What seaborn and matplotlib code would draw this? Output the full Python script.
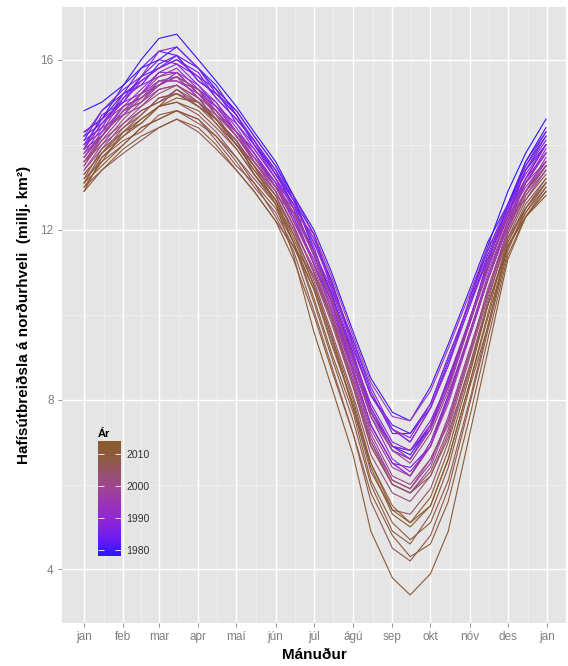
import numpy as np
import pandas as pd
import matplotlib
matplotlib.use("Agg")
import matplotlib.pyplot as plt
import seaborn as sns
from matplotlib.colors import LinearSegmentedColormap, Normalize
from matplotlib.cm import ScalarMappable

# day of year for each reading
days = [1, 15, 32, 46, 60, 74, 91, 105, 121, 135, 152, 166, 182, 196, 213,
        227, 244, 258, 274, 288, 305, 319, 335, 349, 365]
days_1978 = [305, 319, 335, 349, 365]

# sea ice extent, million km2
ext_1978 = [10.4, 11.6, 12.9, 13.8, 14.6]
ext_1979 = [14.8, 15.0, 15.4, 16.0, 16.5, 16.6, 16.0, 15.5, 14.9, 14.3, 13.6, 12.8, 11.5, 10.5, 9.0, 7.8, 6.9, 6.7, 7.4, 8.4, 9.9, 11.2, 12.6, 13.6, 14.4]
ext_1980 = [14.3, 14.6, 15.4, 15.8, 16.0, 16.3, 15.8, 15.3, 14.8, 14.2, 13.5, 12.8, 12.0, 11.0, 9.6, 8.5, 7.7, 7.5, 8.3, 9.3, 10.6, 11.7, 12.6, 13.5, 14.2]
ext_1981 = [14.0, 14.6, 15.2, 15.4, 15.9, 16.1, 15.5, 15.2, 14.7, 14.0, 13.3, 12.6, 11.4, 10.4, 9.1, 7.7, 6.9, 6.8, 7.3, 8.5, 9.8, 11.1, 12.4, 13.4, 14.0]
ext_1982 = [14.1, 14.8, 15.2, 15.8, 16.2, 16.1, 15.8, 15.4, 14.7, 14.1, 13.4, 12.7, 11.7, 10.8, 9.3, 8.1, 7.4, 7.2, 7.8, 8.9, 10.2, 11.4, 12.5, 13.6, 14.3]
ext_1983 = [14.2, 14.5, 15.1, 15.6, 15.8, 16.0, 15.7, 15.1, 14.6, 14.1, 13.3, 12.7, 11.9, 10.6, 9.4, 8.2, 7.2, 7.2, 7.9, 9.0, 10.3, 11.3, 12.4, 13.2, 14.0]
ext_1984 = [13.9, 14.2, 14.9, 15.1, 15.4, 15.7, 15.2, 14.9, 14.3, 13.8, 13.0, 12.3, 11.2, 10.3, 8.7, 7.4, 6.5, 6.4, 6.9, 8.1, 9.5, 10.8, 12.1, 13.1, 13.8]
ext_1985 = [13.9, 14.7, 15.0, 15.6, 16.0, 15.9, 15.6, 15.3, 14.5, 14.0, 13.4, 12.5, 11.4, 10.5, 8.9, 7.7, 6.8, 6.6, 7.3, 8.3, 9.9, 11.1, 12.3, 13.4, 14.1]
ext_1986 = [14.1, 14.4, 15.2, 15.5, 15.8, 16.1, 15.5, 15.2, 14.7, 14.0, 13.2, 12.6, 11.8, 10.8, 9.2, 8.1, 7.3, 7.0, 7.8, 8.8, 10.4, 11.5, 12.5, 13.4, 14.2]
ext_1987 = [14.2, 14.8, 15.3, 15.6, 16.2, 16.3, 15.8, 15.2, 14.8, 14.2, 13.5, 12.7, 11.6, 10.4, 9.0, 7.9, 7.0, 6.8, 7.5, 8.4, 9.8, 11.3, 12.5, 13.5, 14.3]
ext_1988 = [14.3, 14.6, 15.0, 15.5, 15.8, 16.0, 15.6, 15.1, 14.6, 14.1, 13.3, 12.8, 11.9, 10.7, 9.4, 8.3, 7.3, 7.1, 7.9, 9.0, 10.3, 11.5, 12.6, 13.3, 14.0]
ext_1989 = [13.9, 14.5, 15.0, 15.2, 15.7, 15.9, 15.4, 14.9, 14.5, 13.9, 13.2, 12.5, 11.5, 10.6, 9.1, 7.8, 6.9, 6.6, 7.4, 8.5, 9.9, 11.1, 12.4, 13.2, 14.0]
ext_1990 = [14.0, 14.3, 15.1, 15.4, 15.6, 15.8, 15.3, 15.0, 14.4, 13.8, 13.1, 12.4, 11.2, 10.1, 8.7, 7.4, 6.5, 6.2, 7.0, 8.1, 9.6, 10.9, 12.2, 13.1, 13.9]
ext_1991 = [13.8, 14.4, 14.7, 15.2, 15.5, 15.5, 15.2, 14.8, 14.2, 13.7, 13.1, 12.2, 11.3, 10.3, 8.8, 7.6, 6.6, 6.3, 6.9, 8.0, 9.5, 10.8, 12.1, 12.9, 13.7]
ext_1992 = [13.7, 14.2, 14.8, 15.0, 15.4, 15.6, 15.3, 14.9, 14.3, 13.8, 13.1, 12.6, 11.7, 10.7, 9.2, 8.1, 7.3, 7.0, 7.8, 8.8, 10.2, 11.3, 12.4, 13.1, 13.8]
ext_1993 = [13.9, 14.5, 14.9, 15.3, 15.7, 15.7, 15.4, 15.0, 14.3, 13.9, 13.2, 12.3, 11.2, 10.2, 8.7, 7.4, 6.5, 6.2, 6.9, 8.0, 9.6, 10.8, 12.2, 13.2, 13.8]
ext_1994 = [13.8, 14.2, 14.8, 15.2, 15.4, 15.6, 15.1, 14.8, 14.3, 13.6, 13.0, 12.4, 11.5, 10.4, 9.0, 7.8, 6.9, 6.8, 7.4, 8.4, 9.9, 11.1, 12.3, 13.0, 13.6]
ext_1995 = [13.6, 14.1, 14.7, 14.9, 15.3, 15.4, 15.1, 14.6, 14.1, 13.5, 12.9, 12.1, 11.0, 9.9, 8.5, 7.1, 6.1, 5.9, 6.5, 7.6, 9.2, 10.5, 12.0, 12.9, 13.5]
ext_1996 = [13.4, 13.9, 14.5, 14.8, 15.0, 15.3, 14.9, 14.6, 14.0, 13.5, 12.8, 12.4, 11.9, 10.9, 9.5, 8.4, 7.6, 7.5, 8.2, 9.2, 10.5, 11.6, 12.3, 12.7, 13.4]
ext_1997 = [13.7, 14.3, 14.9, 15.1, 15.5, 15.5, 15.3, 14.8, 14.2, 13.7, 13.0, 12.5, 11.4, 10.3, 8.9, 7.7, 6.8, 6.6, 7.3, 8.3, 9.8, 11.2, 12.3, 13.1, 13.6]
ext_1998 = [13.6, 14.2, 14.8, 15.2, 15.6, 15.7, 15.2, 14.7, 14.3, 13.7, 13.0, 12.2, 11.2, 10.1, 8.6, 7.3, 6.4, 6.2, 6.9, 7.9, 9.5, 10.8, 12.1, 12.9, 13.6]
ext_1999 = [13.7, 14.3, 14.7, 15.1, 15.4, 15.6, 15.1, 14.8, 14.2, 13.6, 12.9, 12.1, 11.0, 9.9, 8.4, 7.0, 6.0, 5.8, 6.4, 7.5, 9.1, 10.5, 12.0, 12.9, 13.5]
ext_2000 = [13.4, 14.0, 14.4, 14.7, 15.1, 15.2, 15.0, 14.5, 13.9, 13.3, 12.7, 12.0, 11.1, 10.0, 8.6, 7.2, 6.2, 6.0, 6.6, 7.4, 9.1, 10.5, 11.9, 12.8, 13.4]
ext_2001 = [13.5, 14.2, 14.8, 15.0, 15.5, 15.6, 15.3, 14.7, 14.2, 13.6, 13.0, 12.4, 11.4, 10.4, 8.9, 7.6, 6.8, 6.5, 7.2, 8.2, 9.8, 11.0, 12.2, 12.9, 13.5]
ext_2002 = [13.5, 14.1, 14.5, 14.9, 15.2, 15.4, 15.1, 14.6, 14.1, 13.5, 12.8, 12.0, 10.8, 9.6, 8.1, 6.7, 5.8, 5.6, 6.2, 7.2, 8.8, 10.3, 11.9, 12.8, 13.5]
ext_2003 = [13.6, 14.0, 14.6, 15.0, 15.3, 15.4, 15.0, 14.7, 14.0, 13.6, 12.9, 12.1, 11.0, 10.0, 8.4, 7.0, 6.1, 5.9, 6.6, 7.5, 9.1, 10.6, 12.0, 12.9, 13.5]
ext_2004 = [13.3, 13.8, 14.3, 14.5, 14.9, 15.0, 14.7, 14.3, 13.7, 13.2, 12.6, 11.9, 10.9, 9.9, 8.3, 6.9, 6.0, 5.8, 6.3, 7.3, 9.0, 10.4, 11.8, 12.5, 13.2]
ext_2005 = [13.2, 13.6, 14.0, 14.4, 14.6, 14.8, 14.5, 14.2, 13.6, 13.0, 12.4, 11.6, 10.6, 9.4, 7.8, 6.3, 5.4, 5.3, 5.9, 7.0, 8.7, 10.2, 11.6, 12.4, 13.1]
ext_2006 = [13.0, 13.4, 13.8, 14.1, 14.4, 14.6, 14.3, 13.9, 13.4, 12.9, 12.2, 11.6, 10.9, 9.8, 8.3, 6.9, 6.0, 5.8, 6.2, 7.1, 8.8, 10.2, 11.6, 12.3, 13.0]
ext_2007 = [13.1, 13.7, 14.1, 14.3, 14.7, 14.8, 14.6, 14.1, 13.5, 13.1, 12.3, 11.5, 10.1, 8.8, 7.2, 5.6, 4.5, 4.2, 4.8, 5.9, 7.9, 9.6, 11.5, 12.5, 13.1]
ext_2008 = [13.1, 13.8, 14.4, 14.8, 15.0, 15.2, 14.9, 14.6, 14.0, 13.4, 12.7, 11.7, 10.3, 9.0, 7.5, 6.0, 4.9, 4.6, 5.3, 6.4, 8.3, 9.7, 11.7, 12.6, 13.2]
ext_2009 = [13.2, 13.9, 14.3, 14.7, 15.1, 15.2, 14.9, 14.5, 14.0, 13.4, 12.8, 11.9, 10.7, 9.5, 7.8, 6.5, 5.4, 5.1, 5.5, 6.6, 8.4, 10.0, 11.8, 12.7, 13.3]
ext_2010 = [13.3, 13.8, 14.2, 14.6, 14.9, 15.3, 15.0, 14.6, 14.1, 13.3, 12.6, 11.7, 10.4, 9.1, 7.7, 6.1, 5.1, 4.7, 5.1, 6.1, 8.0, 9.7, 11.6, 12.4, 13.0]
ext_2011 = [12.9, 13.4, 13.9, 14.2, 14.4, 14.6, 14.4, 14.0, 13.4, 12.9, 12.2, 11.3, 10.0, 8.7, 7.2, 5.8, 4.8, 4.3, 4.6, 5.6, 7.6, 9.4, 11.4, 12.3, 12.9]
ext_2012 = [13.0, 13.6, 14.3, 14.6, 14.9, 15.1, 15.0, 14.6, 14.0, 13.5, 12.6, 11.4, 9.6, 8.3, 6.7, 4.9, 3.8, 3.4, 3.9, 4.9, 7.2, 9.1, 11.3, 12.3, 12.9]
ext_2013 = [12.9, 13.7, 14.2, 14.5, 14.9, 15.0, 14.8, 14.4, 13.9, 13.3, 12.7, 11.8, 10.7, 9.5, 8.0, 6.5, 5.5, 5.1, 5.7, 6.8, 8.6, 10.2, 11.7, 12.5, 13.1]
ext_2014 = [13.1, 13.5, 14.0, 14.4, 14.6, 14.8, 14.6, 14.2, 13.7, 13.1, 12.5, 11.7, 10.6, 9.3, 7.9, 6.4, 5.3, 5.0, 5.5, 6.6, 8.4, 9.9, 11.6, 12.3, 12.8]

month_ticks = [1, 32, 60, 91, 121, 152, 182, 213, 244, 274, 305, 335, 366]
month_labels = ["jan", "feb", "mar", "apr", "maí", "jún", "júl", "ágú", "sep", "okt", "nóv", "des", "jan"]
bar_ticks = [1980, 1990, 2000, 2010]

series = {1978: (days_1978, ext_1978)}
for yr in range(1979, 2015):
    series[yr] = (days, globals()["ext_%d" % yr])

rows = []
for yr, (dd, vv) in series.items():
    for d, v in zip(dd, vv):
        rows.append((yr, d, v))
df = pd.DataFrame(rows, columns=["year", "day", "ext"])

cmap = LinearSegmentedColormap.from_list(
    "ar", ["#2a14ff", "#6a1cf2", "#8a24dc", "#9a30bf", "#a0419a", "#985070", "#8e5a40", "#8b5a2b"])
norm = Normalize(1978, 2014)

plt.rcParams["font.family"] = ["Liberation Sans", "DejaVu Sans"]

fig = plt.figure(figsize=(5.68, 6.66), dpi=100)
ax = fig.add_axes([62 / 568, 43 / 666, 504 / 568, 616 / 666])
ax.set_facecolor("#e5e5e5")

sns.lineplot(data=df, x="day", y="ext", hue="year", units="year", estimator=None,
             palette=cmap, hue_norm=norm, legend=False, linewidth=0.8, sort=False, ax=ax)

ax.set_xlim(-16.4, 380.8)
ax.set_ylim(2.74, 17.24)

ax.set_xticks(month_ticks)
ax.set_xticklabels(month_labels)
ax.set_yticks([4, 8, 12, 16])
ax.set_xticks([(a + b) / 2 for a, b in zip(month_ticks[:-1], month_ticks[1:])], minor=True)
ax.set_yticks([6, 10, 14], minor=True)
ax.grid(which="major", color="white", linewidth=1.0)
ax.grid(which="minor", color="#f2f2f2", linewidth=0.5)
ax.set_axisbelow(True)
for s in ax.spines.values():
    s.set_visible(False)
ax.tick_params(which="major", length=3, width=0.6, color="#7f7f7f", labelcolor="#7f7f7f",
               labelsize=8.5, pad=3)
ax.tick_params(which="minor", length=0)

ax.set_xlabel("Mánuður", fontsize=11, fontweight="bold")
ax.set_ylabel("Hafísútbreiðsla á norðurhveli  (millj. km²)", fontsize=11, fontweight="bold")
ax.xaxis.set_label_coords(0.5, -0.040)
ax.yaxis.set_label_coords(-0.062, 0.5)

# colour bar legend inside the panel
cax = fig.add_axes([98 / 568, (666 - 556) / 666, 23 / 568, 115 / 666])
cb = fig.colorbar(ScalarMappable(norm=norm, cmap=cmap), cax=cax)
cb.outline.set_visible(False)
cb.set_ticks(bar_ticks)
cax.tick_params(axis="y", left=True, right=True, direction="in", length=4, width=0.6,
                color="white", labelcolor="#333333", labelsize=7.5, labelleft=False, labelright=True, pad=4)
cax.set_title("Ár", loc="left", fontsize=8, fontweight="bold", pad=3)

fig.savefig("out.png", dpi=100)
